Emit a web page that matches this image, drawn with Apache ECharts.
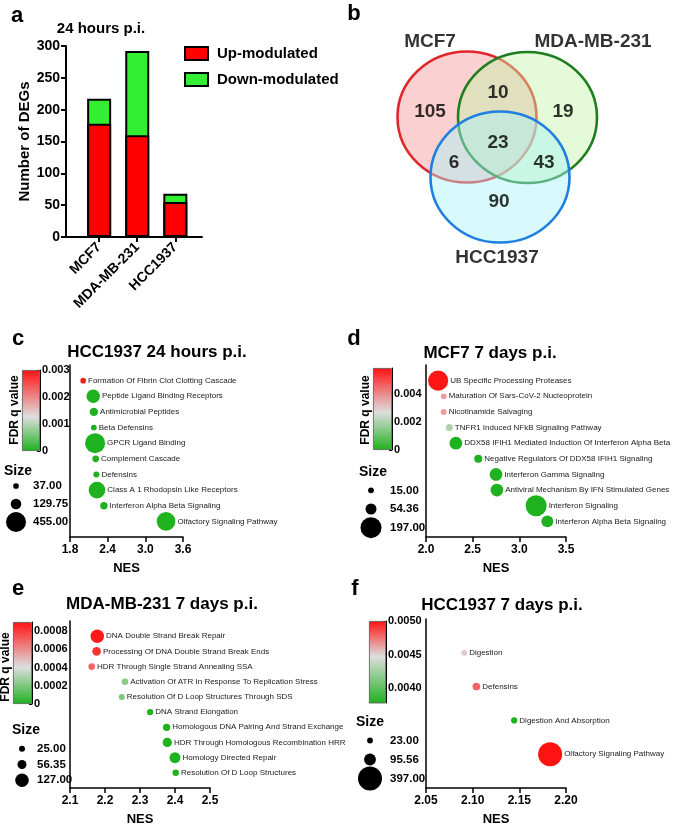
<!DOCTYPE html>
<html><head><meta charset="utf-8">
<script src="https://cdn.jsdelivr.net/npm/echarts@6/dist/echarts.min.js"></script>
<style>html,body{margin:0;padding:0;background:#fff}#chart{width:676px;height:827px}</style>
</head><body><div id="chart"></div>
<script>
// ---------------- data ----------------
// (a) DEG counts, 24 hours p.i.
const cellLines = ['MCF7', 'MDA-MB-231', 'HCC1937'];
const upModulated = [178, 160, 55];
const downModulated = [39, 132, 13];
const degTicks = [0, 50, 100, 150, 200, 250, 300];

// (b) Venn diagram
const vennSets = ['MCF7', 'MDA-MB-231', 'HCC1937'];
const vennRegions = ['MCF7 only', 'MDA-MB-231 only', 'HCC1937 only', 'MCF7 & MDA-MB-231', 'MCF7 & HCC1937', 'MDA-MB-231 & HCC1937', 'all three'];
const vennCounts = [105, 19, 90, 10, 6, 43, 23];

// (c) HCC1937 24 hours p.i.
const cPathways = ['Formation Of Fibrin Clot Clotting Cascade', 'Peptide Ligand Binding Receptors', 'Antimicrobial Peptides', 'Beta Defensins', 'GPCR Ligand Binding', 'Complement Cascade', 'Defensins', 'Class A 1 Rhodopsin Like Receptors', 'Interferon Alpha Beta Signaling', 'Olfactory Signaling Pathway'];
const cNES = [2.01, 2.17, 2.18, 2.18, 2.20, 2.21, 2.22, 2.23, 2.34, 3.33];
const cSize = [37, 202, 80, 38, 455, 51, 42, 317, 62, 397];
const cFDR = [0.0029, 0, 0, 0, 0, 0, 0, 0, 0, 0];
const cSizeLegend = [37, 129.75, 455];
const cNesTicks = [1.8, 2.4, 3.0, 3.6];
const cFdrTicks = [0, 0.001, 0.002, 0.003];

// (d) MCF7 7 days p.i.
const dPathways = ['UB Specific Processing Proteases', 'Maturation Of Sars-CoV-2 Nucleoprotein', 'Nicotinamide Salvaging', 'TNFR1 Induced NFkB Signaling Pathway', 'DDX58 IFIH1 Mediated Induction Of Interferon Alpha Beta', 'Negative Regulators Of DDX58 IFIH1 Signaling', 'Interferon Gamma Signaling', 'Antiviral Mechanism By IFN Stimulated Genes', 'Interferon Signaling', 'Interferon Alpha Beta Signaling'];
const dNES = [2.13, 2.19, 2.19, 2.25, 2.32, 2.56, 2.75, 2.76, 3.18, 3.30];
const dSize = [180, 15, 16, 22, 72, 29, 72, 72, 197, 64];
const dFDR = [0.0058, 0.0037, 0.0037, 0.0020, 0, 0, 0, 0, 0, 0];
const dSizeLegend = [15, 54.36, 197];
const dNesTicks = [2.0, 2.5, 3.0, 3.5];
const dFdrTicks = [0, 0.002, 0.004];

// (e) MDA-MB-231 7 days p.i.
const ePathways = ['DNA Double Strand Break Repair', 'Processing Of DNA Double Strand Break Ends', 'HDR Through Single Strand Annealing SSA', 'Activation Of ATR In Response To Replication Stress', 'Resolution Of D Loop Structures Through SDS', 'DNA Strand Elongation', 'Homologous DNA Pairing And Strand Exchange', 'HDR Through Homologous Recombination HRR', 'Homology Directed Repair', 'Resolution Of D Loop Structures'];
const eNES = [2.178, 2.176, 2.162, 2.257, 2.248, 2.329, 2.376, 2.378, 2.400, 2.402];
const eSize = [127, 53, 31, 31, 25, 28, 37, 60, 84, 29];
const eFDR = [0.00088, 0.00082, 0.00070, 0.00022, 0.00020, 0, 0, 0, 0, 0];
const eSizeLegend = [25, 56.35, 127];
const eNesTicks = [2.1, 2.2, 2.3, 2.4, 2.5];
const eFdrTicks = [0, 0.0002, 0.0004, 0.0006, 0.0008];

// (f) HCC1937 7 days p.i.
const fPathways = ['Digestion', 'Defensins', 'Digestion And Absorption', 'Olfactory Signaling Pathway'];
const fNES = [2.091, 2.104, 2.1445, 2.183];
const fSize = [23, 41, 27, 397];
const fFDR = [0.00453, 0.00479, 0.00378, 0.0050];
const fSizeLegend = [23, 95.56, 397];
const fNesTicks = [2.05, 2.10, 2.15, 2.20];
const fFdrTicks = [0.0040, 0.0045, 0.0050];

// ---------------- helpers / styles ----------------
const FONT = '"Liberation Sans", Arial, Helvetica, sans-serif';
const GREEN = [30, 178, 30], GRAY = [222, 222, 222], RED = [255, 18, 18];
function mix(a, b, t) { return 'rgb(' + a.map((v, i) => Math.round(v + (b[i] - v) * t)).join(',') + ')'; }
function rampAt(t, mid) { return t <= mid ? mix(GREEN, GRAY, t / mid) : mix(GRAY, RED, (t - mid) / (1 - mid)); }
function rampStops(mid) { const o = []; for (let i = 0; i <= 20; i++) o.push(rampAt(i / 20, mid)); return o; }
const bold = (size) => ({ fontFamily: FONT, fontWeight: 'bold', fontSize: size, color: '#000' });

const option = {
  animation: false,
  textStyle: { fontFamily: FONT },
  grid: [], xAxis: [], yAxis: [], series: [], visualMap: [], graphic: []
};
function addGrid(g) { option.grid.push(Object.assign({ containLabel: false }, g)); return option.grid.length - 1; }
function txt(x, y, text, size, opts) {
  option.graphic.push(Object.assign({
    type: 'text', x: x, y: y, z: 100,
    style: { text: text, font: 'bold ' + size + 'px ' + FONT, fill: '#000', align: 'center', verticalAlign: 'middle', textAlign: 'center', textVerticalAlign: 'middle' }
  }, opts || {}));
}

// ---------------- (a) stacked bars ----------------
{
  const g = addGrid({ left: 66, top: 46, width: 136, height: 191 });
  const idx = cellLines.map((_, i) => i);
  option.xAxis.push({
    gridIndex: g, type: 'value', min: -0.87, max: 2.7,
    axisLine: { show: true, onZero: false, lineStyle: { color: '#000', width: 2 } },
    axisTick: { show: true, customValues: idx, length: 5, lineStyle: { color: '#000', width: 2 } },
    axisLabel: Object.assign(bold(14), { customValues: idx, rotate: 45, margin: 8, formatter: v => cellLines[Math.round(v)] }),
    splitLine: { show: false }
  });
  option.yAxis.push({
    gridIndex: g, type: 'value', min: degTicks[0], max: degTicks[degTicks.length - 1], interval: 50,
    axisLine: { show: true, onZero: false, lineStyle: { color: '#000', width: 2 } },
    axisTick: { show: true, length: 5, lineStyle: { color: '#000', width: 2 } },
    axisLabel: Object.assign(bold(14), { margin: 6 }),
    splitLine: { show: false },
    name: 'Number of DEGs', nameLocation: 'middle', nameGap: 27, nameRotate: 90, nameTextStyle: bold(15)
  });
  const xi = option.xAxis.length - 1, yi = option.yAxis.length - 1;
  // Down-modulated segment sits on top of the up-modulated one: draw the total, then overlay the up part.
  option.series.push({
    name: 'Down-modulated', type: 'bar', xAxisIndex: xi, yAxisIndex: yi, barWidth: 24, barGap: '-100%', z: 2,
    data: downModulated.map((v, i) => [i, upModulated[i] + v]),
    itemStyle: { color: '#33ee33', borderColor: '#000', borderWidth: 2 }, emphasis: { disabled: true }
  });
  option.series.push({
    name: 'Up-modulated', type: 'bar', xAxisIndex: xi, yAxisIndex: yi, barWidth: 24, barGap: '-100%', z: 3,
    data: upModulated.map((v, i) => [i, v]),
    itemStyle: { color: '#ff0000', borderColor: '#000', borderWidth: 2 }, emphasis: { disabled: true }
  });
  option.legend = {
    data: ['Up-modulated', 'Down-modulated'], left: 179, top: 41, orient: 'vertical',
    itemWidth: 23, itemHeight: 13, itemGap: 11, icon: 'rect', selectedMode: false,
    textStyle: Object.assign(bold(15), { padding: [0, 0, 0, 4] })
  };
  txt(17, 16, 'a', 22);
  txt(101, 29, '24 hours p.i.', 15);
}

// ---------------- (b) Venn ----------------
{
  const g = addGrid({ left: 380, top: 40, width: 240, height: 220 });
  option.xAxis.push({ gridIndex: g, type: 'value', min: 0, max: 240, show: false });
  option.yAxis.push({ gridIndex: g, type: 'value', min: 0, max: 220, inverse: true, show: false });
  const xi = option.xAxis.length - 1, yi = option.yAxis.length - 1;
  const circleLayout = [[87, 77], [147.5, 77.5], [120, 137]];
  const fills = ['rgba(244,150,150,0.45)', 'rgba(195,244,168,0.45)', 'rgba(168,244,248,0.45)'];
  const strokes = ['#e0262a', '#1e7d1e', '#1f7fe0'];
  vennSets.forEach((s, i) => {
    option.series.push({
      type: 'scatter', xAxisIndex: xi, yAxisIndex: yi, z: 2 + i, symbol: 'circle', symbolSize: [139, 131],
      data: [{ name: s, value: circleLayout[i] }], clip: false, silent: true,
      itemStyle: { color: fills[i], borderColor: strokes[i], borderWidth: 2.5, opacity: 1 }
    });
  });
  const regionLayout = [[50, 72], [183, 72], [119, 162], [118, 53], [74, 123], [164, 123], [118, 103]];
  option.series.push({
    type: 'scatter', xAxisIndex: xi, yAxisIndex: yi, z: 10, symbolSize: 0, clip: false, silent: true,
    data: vennRegions.map((r, i) => ({ name: r, value: regionLayout[i].concat([vennCounts[i]]) })),
    label: Object.assign(bold(19), { show: true, position: 'inside', formatter: p => String(p.value[2]) })
  });
  const setLabelLayout = [[50, 2], [213, 2], [117, 218]];
  option.series.push({
    type: 'scatter', xAxisIndex: xi, yAxisIndex: yi, z: 10, symbolSize: 0, clip: false, silent: true,
    data: vennSets.map((s, i) => ({ name: s, value: setLabelLayout[i] })),
    label: Object.assign(bold(19), { show: true, position: 'inside', formatter: '{b}' })
  });
  txt(354, 14, 'b', 22);
}

// ---------------- bubble panels ----------------
const panels = [
  { letter: 'c', letterPos: [18, 339], title: 'HCC1937 24 hours p.i.', titlePos: [157, 352],
    names: cPathways, nes: cNES, size: cSize, fdr: cFDR, sizeLegend: cSizeLegend, nesTicks: cNesTicks, nesDigits: 1,
    fdrTicks: cFdrTicks, fdrRange: [0, 0.003], fdrDigits: 3, mid: 0.42, dmax: 20,
    grid: { left: 70, top: 365, width: 113, height: 172 },
    cbar: { left: 22, top: 370, width: 18, height: 81 }, fdrLabel: [15, 410],
    sizeGrid: { left: 6, top: 477, width: 20, height: 54 }, sizeMargin: 7, sizeTitle: [18, 471] },
  { letter: 'd', letterPos: [354, 339], title: 'MCF7 7 days p.i.', titlePos: [490, 353],
    names: dPathways, nes: dNES, size: dSize, fdr: dFDR, sizeLegend: dSizeLegend, nesTicks: dNesTicks, nesDigits: 1,
    fdrTicks: dFdrTicks, fdrRange: [0, 0.00586], fdrDigits: 3, mid: 0.46, dmax: 21,
    grid: { left: 426, top: 365, width: 140, height: 172 },
    cbar: { left: 373, top: 368, width: 19, height: 82 }, fdrLabel: [366, 410],
    sizeGrid: { left: 361, top: 481, width: 20, height: 56 }, sizeMargin: 9, sizeTitle: [373, 472] },
  { letter: 'e', letterPos: [18, 589], title: 'MDA-MB-231 7 days p.i.', titlePos: [162, 604],
    names: ePathways, nes: eNES, size: eSize, fdr: eFDR, sizeLegend: eSizeLegend, nesTicks: eNesTicks, nesDigits: 1,
    fdrTicks: eFdrTicks, fdrRange: [0, 0.0009], fdrDigits: 4, mid: 0.45, dmax: 13.5,
    grid: { left: 70, top: 621, width: 140, height: 172 },
    cbar: { left: 13, top: 622, width: 19, height: 82 }, fdrLabel: [6, 667],
    sizeGrid: { left: 12, top: 741, width: 20, height: 47 }, sizeMargin: 5, sizeTitle: [26, 730] },
  { letter: 'f', letterPos: [355, 589], title: 'HCC1937 7 days p.i.', titlePos: [502, 605],
    names: fPathways, nes: fNES, size: fSize, fdr: fFDR, sizeLegend: fSizeLegend, nesTicks: fNesTicks, nesDigits: 2,
    fdrTicks: fFdrTicks, fdrRange: [0.00378, 0.0050], fdrDigits: 4, mid: 0.57, dmax: 24,
    grid: { left: 426, top: 619, width: 140, height: 170 },
    cbar: { left: 369, top: 621, width: 17, height: 82 }, fdrLabel: null,
    sizeGrid: { left: 360, top: 731, width: 20, height: 57 }, sizeMargin: 10, sizeTitle: [370, 722] }
];

panels.forEach(p => {
  const smax = p.sizeLegend[p.sizeLegend.length - 1];
  const sz = s => p.dmax * Math.sqrt(s / smax);
  // main bubble plot
  const g = addGrid(p.grid);
  option.xAxis.push({
    gridIndex: g, type: 'value', min: p.nesTicks[0], max: p.nesTicks[p.nesTicks.length - 1],
    axisLine: { show: true, onZero: false, lineStyle: { color: '#000', width: 1.5 } },
    axisTick: { show: true, customValues: p.nesTicks, length: 5, lineStyle: { color: '#000', width: 1.5 } },
    axisLabel: Object.assign(bold(12), { customValues: p.nesTicks, margin: 7, formatter: v => v.toFixed(p.nesDigits) }),
    splitLine: { show: false },
    name: 'NES', nameLocation: 'middle', nameGap: 25, nameTextStyle: bold(13)
  });
  option.yAxis.push({
    gridIndex: g, type: 'value', min: 0, max: p.names.length + 1, inverse: true,
    axisLine: { show: true, onZero: false, lineStyle: { color: '#000', width: 1.5 } },
    axisTick: { show: false }, axisLabel: { show: false }, splitLine: { show: false }
  });
  let xi = option.xAxis.length - 1, yi = option.yAxis.length - 1;
  const sIdx = option.series.length;
  option.series.push({
    type: 'scatter', xAxisIndex: xi, yAxisIndex: yi, clip: false,
    data: p.names.map((n, i) => ({ name: n, value: [p.nes[i], i + 1, p.size[i], p.fdr[i]] })),
    symbolSize: v => sz(v[2]),
    itemStyle: { opacity: 1 },
    label: { show: true, position: 'right', distance: 2, formatter: '{b}', fontFamily: FONT, fontSize: 8, color: '#1a1a1a' },
    emphasis: { disabled: true }
  });
  option.visualMap.push({
    type: 'continuous', show: false, seriesIndex: sIdx, dimension: 3,
    min: p.fdrRange[0], max: p.fdrRange[1], inRange: { color: rampStops(p.mid) }
  });
  // colour bar
  const cg = addGrid(p.cbar);
  option.xAxis.push({ gridIndex: cg, type: 'category', data: ['FDR q value'], show: false, boundaryGap: true });
  option.yAxis.push({
    gridIndex: cg, type: 'value', min: p.fdrRange[0], max: p.fdrRange[1], position: 'right',
    axisLine: { show: true, onZero: false, lineStyle: { color: '#000', width: 1 } },
    axisTick: { show: true, inside: true, customValues: p.fdrTicks, length: 3, lineStyle: { color: '#000', width: 1 } },
    axisLabel: Object.assign(bold(11), { customValues: p.fdrTicks, margin: 2, formatter: v => (Math.abs(v) < 1e-12 ? '0' : v.toFixed(p.fdrDigits)) }),
    splitLine: { show: false }
  });
  xi = option.xAxis.length - 1; yi = option.yAxis.length - 1;
  option.series.push({
    type: 'bar', xAxisIndex: xi, yAxisIndex: yi, barWidth: '100%', silent: true,
    data: [p.fdrRange[1]],
    itemStyle: {
      color: new echarts.graphic.LinearGradient(0, 0, 0, 1, [
        { offset: 0, color: rampAt(1, p.mid) }, { offset: 1 - p.mid, color: rampAt(p.mid, p.mid) }, { offset: 1, color: rampAt(0, p.mid) }
      ]),
      borderColor: '#555', borderWidth: 0.8
    }
  });
  // size legend
  const lg = addGrid(p.sizeGrid);
  option.xAxis.push({ gridIndex: lg, type: 'value', min: 0, max: 1, show: false });
  option.yAxis.push({
    gridIndex: lg, type: 'category', data: p.sizeLegend.map(v => v.toFixed(2)), inverse: true, position: 'right',
    axisLine: { show: false }, axisTick: { show: false }, splitLine: { show: false },
    axisLabel: Object.assign(bold(11.5), { margin: p.sizeMargin })
  });
  xi = option.xAxis.length - 1; yi = option.yAxis.length - 1;
  option.series.push({
    type: 'scatter', xAxisIndex: xi, yAxisIndex: yi, clip: false, silent: true,
    data: p.sizeLegend.map((s, i) => [0.5, i]),
    symbolSize: (v, prm) => sz(p.sizeLegend[prm.dataIndex]),
    itemStyle: { color: '#000', opacity: 1 }
  });
  // texts
  txt(p.letterPos[0], p.letterPos[1], p.letter, 22);
  txt(p.titlePos[0], p.titlePos[1], p.title, 17);
  txt(p.sizeTitle[0], p.sizeTitle[1], 'Size', 14);
  if (p.fdrLabel) txt(p.fdrLabel[0], p.fdrLabel[1], 'FDR q value', 12, { rotation: Math.PI / 2 });
});

const chart = echarts.init(document.getElementById('chart'), null, { renderer: 'canvas' });
chart.setOption(option);
</script>
</body></html>
